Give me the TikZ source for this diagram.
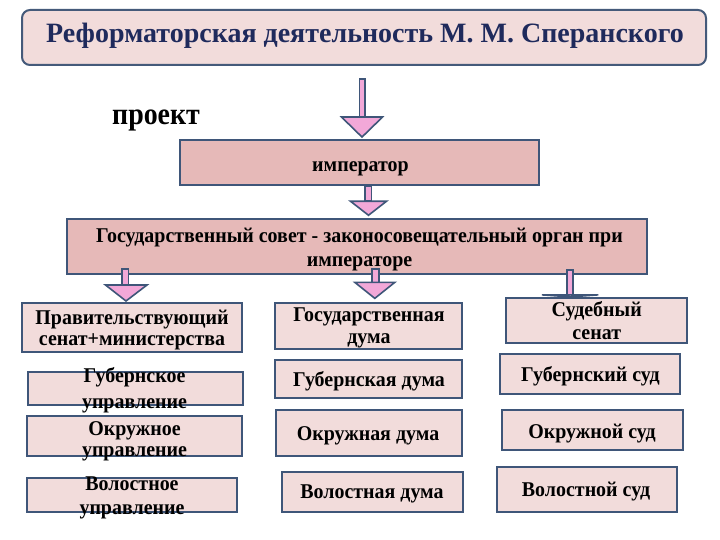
\documentclass[tikz,border=0pt]{standalone}
\usepackage{fontspec}
\setmainfont{Liberation Serif}
\newfontfamily\cond[FakeStretch=0.95]{Liberation Serif}
\newfontfamily\narr[FakeStretch=0.9]{Liberation Serif}
\usetikzlibrary{calc}
\definecolor{edgec}{HTML}{3F5679}
\definecolor{lightc}{HTML}{F2DCDB}
\definecolor{darkc}{HTML}{E6B9B8}
\definecolor{arrc}{HTML}{F2A8D8}
\definecolor{titlec}{HTML}{1F2A5C}
\tikzset{
  box/.style={draw=edgec, line width=1.9pt, fill=lightc, inner sep=0pt},
  dbox/.style={box, fill=darkc},
  txt/.style={inner sep=0pt, anchor=base, font=\cond\bfseries\fontsize{21}{24}\selectfont, text=black},
  arr/.style={draw=edgec, line width=1.6pt, fill=arrc, line join=miter},
}
\begin{document}
\begin{tikzpicture}[x=1pt,y=-1pt]
\useasboundingbox (0,0) rectangle (720,540);
\fill[white] (0,0) rectangle (720,540);
% title
\node[box, rounded corners=8pt, line width=2pt, draw=edgec!90!gray, minimum width=684, minimum height=55] (title) at (364,37.5) {};
\node[txt, font=\bfseries\fontsize{28}{30}\selectfont, text=titlec] (titlet) at (365,42.7) {Реформаторская деятельность М. М. Сперанского};
\node[inner sep=0pt, font=\narr\bfseries\fontsize{31}{32}\selectfont, anchor=base west] (proj) at (112,125) {проект};
% emperor
\node[dbox, minimum width=359, minimum height=45] (imp) at (359.5,162.5) {};
\node[txt] (impt) at (360.5,171.5) {император};
% state council
\node[dbox, minimum width=580, minimum height=55] (sov) at (357,246.7) {};
\node[txt] (sovt1) at (359.5,242.3) {Государственный совет - законосовещательный орган при};
\node[txt] (sovt2) at (359.5,266.7) {императоре};
% column 1
\node[box, minimum width=220, minimum height=48.7] (pra) at (132,327.3) {};
\node[txt] (prat1) at (132,324.3) {Правительствующий};
\node[txt] (prat2) at (132,345) {сенат+министерства};
\node[box, minimum width=215.4, minimum height=33.3] (gub) at (135.3,388.3) {};
\node[txt] (gubt1) at (134.5,382.7) {Губернское};
\node[txt] (gubt2) at (134.5,408.3) {управление};
\node[box, minimum width=214.7, minimum height=40.3] (okr) at (134.7,435.8) {};
\node[txt] (okrt1) at (134.5,435) {Окружное};
\node[txt] (okrt2) at (134.5,456.7) {управление};
\node[box, minimum width=209.4, minimum height=34.3] (vol) at (132,494.7) {};
\node[txt] (volt1) at (132,490.7) {Волостное};
\node[txt] (volt2) at (132,514) {управление};
% column 2
\node[box, minimum width=186.7, minimum height=46] (gd) at (368.3,326.3) {};
\node[txt] (gdt1) at (369,321) {Государственная};
\node[txt] (gdt2) at (369,343.3) {дума};
\node[box, minimum width=186.7, minimum height=38.3] (gdu) at (368.3,379.2) {};
\node[txt] (gdut) at (369,386.7) {Губернская дума};
\node[box, minimum width=185.7, minimum height=46] (odu) at (368.8,433) {};
\node[txt] (odut) at (368,440) {Окружная дума};
\node[box, minimum width=181, minimum height=40] (vdu) at (372.5,492) {};
\node[txt] (vdut) at (372,498.3) {Волостная дума};
% column 3
\node[box, minimum width=180.7, minimum height=45] (ss) at (596.3,320.8) {};
\node[txt] (sst1) at (596.7,316) {Судебный};
\node[txt] (sst2) at (596.7,339.3) {сенат};
\node[box, minimum width=180, minimum height=39.7] (gsu) at (590,374.2) {};
\node[txt] (gsut) at (590.5,381.7) {Губернский суд};
\node[box, minimum width=181, minimum height=40] (osu) at (592.5,430) {};
\node[txt] (osut) at (592,438.3) {Окружной суд};
\node[box, minimum width=180, minimum height=45.3] (vsu) at (587,489.3) {};
\node[txt] (vsut) at (586,496.7) {Волостной суд};
% arrows
% 1 title -> emperor
\draw[arr] ($(title.south)+(-4.5,13)$) rectangle ($(imp.north)+(5.5,-22)$);
\draw[arr] ($(imp.north)+(-18,-22)$) -- ($(imp.north)+(23,-22)$) -- ($(imp.north)+(2.5,-2)$) -- cycle;
% 2 emperor -> council
\draw[arr] ($(imp.south)+(5.5,0)$) rectangle ($(sov.north)+(14.5,-17)$);
\draw[arr] ($(sov.north)+(-6.5,-17)$) -- ($(sov.north)+(29.5,-17)$) -- ($(sov.north)+(11.5,-3)$) -- cycle;
% L council -> senate+ministries
\draw[arr] ($(sov.south west)+(56,-6)$) rectangle ($(pra.north)+(-3.5,-17)$);
\draw[arr] ($(pra.north)+(-26.5,-17)$) -- ($(pra.north)+(15,-17)$) -- ($(pra.north)+(-6,-1)$) -- cycle;
% M council -> duma
\draw[arr] ($(sov.south)+(15,-6)$) rectangle ($(gd.north)+(10.5,-20)$);
\draw[arr] ($(gd.north)+(-13.5,-20)$) -- ($(gd.north)+(26.5,-20)$) -- ($(gd.north)+(6.5,-4)$) -- cycle;
% R council -> judicial senate
\draw[arr] ($(sov.south)+(210,-5)$) rectangle ($(ss.north)+(-23.5,-2.5)$);
\draw[arr] ($(ss.north)+(-54.5,-2.5)$) -- ($(ss.north)+(2,-2.5)$) -- ($(ss.north)+(-26,-0.5)$) -- cycle;
\end{tikzpicture}
\end{document}
